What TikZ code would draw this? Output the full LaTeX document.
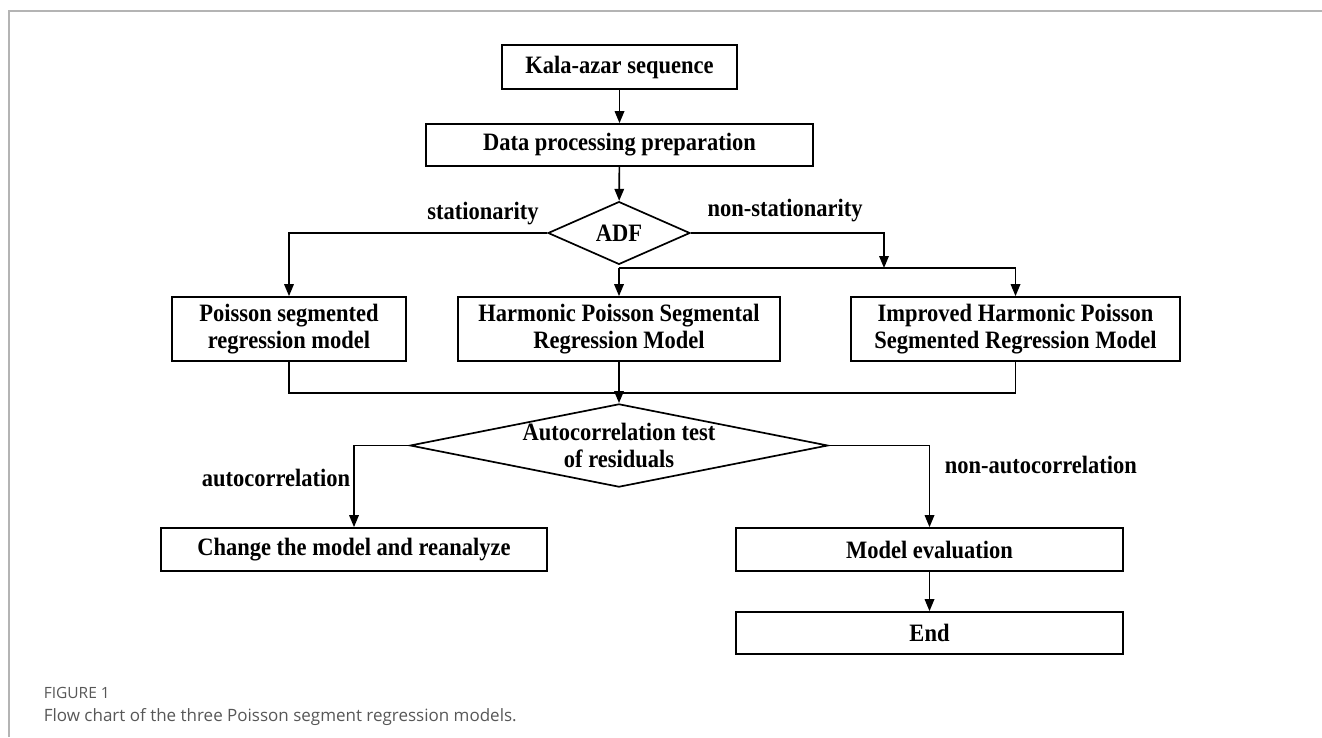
\documentclass[tikz,border=0pt]{standalone}
\usepackage{fontspec}
\setmainfont{Liberation Serif}[FakeStretch=0.9]
\newfontfamily\capfont{Open Sans}
\usepackage{xcolor}
\usetikzlibrary{arrows.meta, positioning, calc, shapes.geometric}

\definecolor{framegray}{HTML}{B4B4B4}
\definecolor{capgray}{HTML}{575757}

\begin{document}
\begin{tikzpicture}[x=1pt, y=-1pt, >={Triangle[length=12pt, width=9.5pt]},
    line width=1.7pt, every node/.style={font=\fontsize{25}{27}\selectfont\bfseries},
    procbox/.style={draw, rectangle, inner sep=0pt, align=center, minimum height=43pt},
    decide/.style={draw, diamond, inner sep=0pt, align=center},
    lbl/.style={inner sep=0pt},
    arr/.style={->}]
    \useasboundingbox (0,0) rectangle (1322,737);

    % frame and caption
    \draw [framegray, line width=2pt] (9,737) -- (9,11) -- (1322,11);
    \node [anchor=west, inner sep=0pt, font=\capfont\fontsize{15.5}{18}\selectfont, text=capgray] (figno) at (43,693) {FIGURE 1};
    \node [anchor=west, inner sep=0pt, font=\capfont\fontsize{17}{20}\selectfont, text=capgray] (caption) at (43,717) {Flow chart of the three Poisson segment regression models.};

    % boxes
    \node [procbox, minimum width=235pt, minimum height=44pt] (kala) at (619.5,67) {Kala-azar sequence};
    \node [procbox, minimum width=387pt, minimum height=42pt] (prep) at (619.5,145) {Data processing preparation};
    \node [decide, minimum width=142pt, minimum height=53pt] (adf) at (619,233) {ADF};
    \node [procbox, minimum width=234pt, minimum height=64pt] (psr) at (289,329) {Poisson segmented\\regression model};
    \node [procbox, minimum width=322pt, minimum height=64pt] (hpsr) at (619,329) {Harmonic Poisson Segmental\\Regression Model};
    \node [procbox, minimum width=329pt, minimum height=64pt] (ihpsr) at (1015.5,329) {Improved Harmonic Poisson\\Segmented Regression Model};
    \node [decide, minimum width=418pt, minimum height=83pt, aspect=5] (acf) at (619,445.5) {Autocorrelation test\\of residuals};
    \node [procbox, minimum width=386pt] (change) at (354,549.5) {Change the model and reanalyze};
    \node [procbox, minimum width=387pt] (eval) at (929.5,549.5) {Model evaluation};
    \node [procbox, minimum width=387pt, minimum height=42pt] (stop) at (929.5,633) {End};

    % branch labels
    \node [lbl] (stat) at (483,214) {stationarity};
    \node [lbl] (nstat) at (785,211) {non-stationarity};
    \node [lbl, anchor=east] (auto) at (351,478) {autocorrelation};
    \node [lbl, anchor=west] (nauto) at (944,465) {non-autocorrelation};

    \coordinate (split) at (884,268);
    \coordinate (merge) at (619,393);

    % connectors
    \draw [arr] (kala) -- (prep);
    \draw [arr] (prep) -- (adf);
    \draw [arr] (adf.west) -| (psr.north);
    \draw [arr] (adf.east) -| (split);
    \draw [arr] (split -| hpsr.north) -- (hpsr.north);
    \draw [arr] (split -| hpsr.north) -| (ihpsr.north);
    \draw (psr.south) |- (merge);
    \draw (ihpsr.south) |- (merge);
    \draw [arr] (hpsr.south) -- (acf.north);
    \draw [arr] (acf.west) -| (change.north);
    \draw [arr] (acf.east) -| (eval.north);
    \draw [arr] (eval) -- (stop);
\end{tikzpicture}
\end{document}
